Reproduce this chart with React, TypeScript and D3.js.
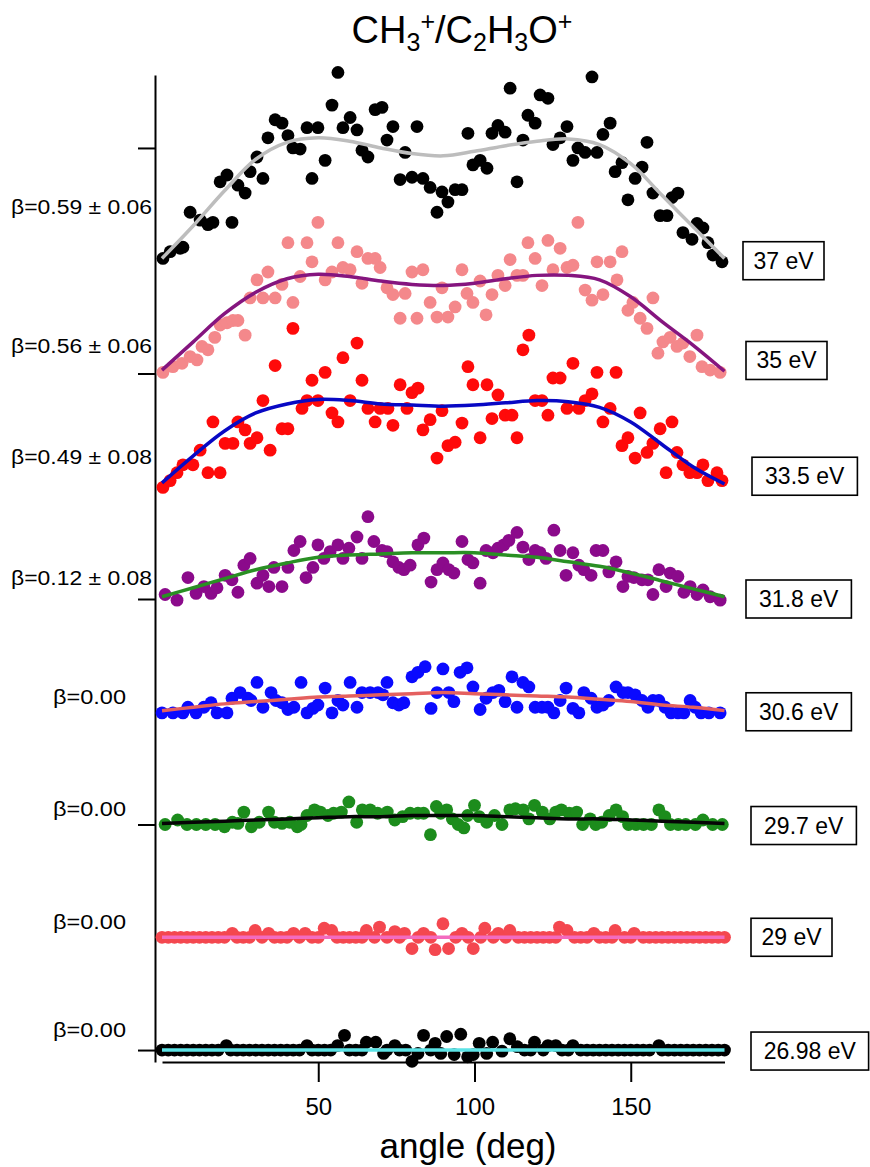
import React, { useEffect, useRef } from "react";
import * as d3 from "d3";

type Pt = [number, number];

// series order: top (37 eV) to bottom (26.98 eV)
const energies = ["37 eV", "35 eV", "33.5 eV", "31.8 eV", "30.6 eV", "29.7 eV", "29 eV", "26.98 eV"];
const betaLabels = ["β=0.59 ± 0.06", "β=0.56 ± 0.06", "β=0.49 ± 0.08", "β=0.12 ± 0.08", "β=0.00", "β=0.00", "β=0.00", "β=0.00"];
const offsets = [7, 6, 5, 4, 3, 2, 1, 0];
const dotColors = ["#000000", "#f4888b", "#ff0a0a", "#8b0a8b", "#0a0aff", "#1c8c1c", "#f4474f", "#000000"];
const fitColors = ["#bdbdbd", "#85157f", "#0808c4", "#2a8f24", "#e4605f", "#050505", "#f36bbf", "#5ce3e6"];

const xTicks = [50, 100, 150];
const yTicks = [0, 2, 4, 6, 8];

// fitted curves, sampled every 10 deg
const fitAngles = [0, 10, 20, 30, 40, 50, 60, 70, 80, 90, 100, 110, 120, 130, 140, 150, 160, 170, 180];
const fit37 = [0.02, 0.31, 0.62, 0.9, 1.05, 1.09, 1.06, 1.0, 0.95, 0.93, 0.97, 1.02, 1.06, 1.08, 1.03, 0.86, 0.58, 0.3, 0.02];
const fit35 = [0.03, 0.28, 0.53, 0.72, 0.84, 0.88, 0.86, 0.82, 0.79, 0.78, 0.8, 0.84, 0.87, 0.87, 0.83, 0.68, 0.46, 0.25, 0.02];
const fit33 = [0.03, 0.27, 0.49, 0.65, 0.73, 0.77, 0.76, 0.73, 0.72, 0.71, 0.72, 0.74, 0.76, 0.75, 0.7, 0.57, 0.37, 0.17, 0.02];
const fit31 = [0.02, 0.1, 0.18, 0.26, 0.32, 0.37, 0.39, 0.4, 0.41, 0.41, 0.41, 0.39, 0.37, 0.33, 0.29, 0.23, 0.16, 0.09, 0.02];
const fit30 = [0.01, 0.04, 0.07, 0.09, 0.11, 0.13, 0.14, 0.15, 0.16, 0.17, 0.16, 0.15, 0.14, 0.13, 0.11, 0.09, 0.06, 0.04, 0.01];
const fit29_7 = [0.01, 0.02, 0.03, 0.04, 0.05, 0.06, 0.07, 0.07, 0.08, 0.08, 0.08, 0.07, 0.06, 0.05, 0.05, 0.04, 0.03, 0.02, 0.01];
const fit29 = [0, 0, 0, 0, 0, 0, 0, 0, 0, 0, 0, 0, 0, 0, 0, 0, 0, 0, 0];
const fit27 = [0, 0, 0, 0, 0, 0, 0, 0, 0, 0, 0, 0, 0, 0, 0, 0, 0, 0, 0];

// measured points [angle, intensity above baseline]
const pts37: Pt[] = [[0.3,0.02],[2.6,0.08],[5.8,0.11],[6.7,0.12],[9,0.43],[12.2,0.36],[14.7,0.32],[16.3,0.34],[18.6,0.7],[20.8,0.76],[22.4,0.34],[24.3,0.67],[26.6,0.6],[28.2,0.79],[30.4,0.92],[32.3,0.73],[33.9,1.09],[36.2,1.25],[38.4,1.22],[40.3,1.11],[41.9,1.0],[44.2,0.99],[46.4,1.18],[48,0.73],[49.9,1.18],[52.2,0.89],[54.4,1.38],[56.3,1.67],[57.9,1.18],[60.2,1.27],[62.4,1.16],[64,0.98],[65.9,0.92],[68.2,1.34],[70.4,1.36],[72,1.07],[73.9,1.19],[76.2,0.72],[77.8,0.96],[80,0.74],[81.6,1.19],[83.5,0.73],[85.8,0.65],[88,0.43],[89.6,0.61],[91.5,0.52],[93.8,0.63],[96,0.63],[97.9,1.13],[99.5,0.85],[101.8,0.89],[104,0.82],[105.6,1.13],[107.5,1.2],[109.8,1.14],[111.4,1.53],[113.6,0.7],[115.5,1.07],[117.1,1.29],[119.4,1.22],[121,1.47],[123.5,1.44],[125.1,1.03],[127.4,1.09],[129.6,1.19],[131.5,0.89],[133.1,1.0],[135.4,0.96],[137.6,1.63],[139.2,0.96],[141.1,1.12],[143.4,1.22],[145,0.79],[147.2,0.87],[149.1,0.54],[151.4,0.73],[153.6,0.83],[155.2,1.05],[157.1,0.6],[159.4,0.4],[161.6,0.4],[163.2,0.56],[165.1,0.6],[166.7,0.25],[169.6,0.19],[171.2,0.33],[173.1,0.29],[174.7,0.16],[176.3,0.05],[179.2,-0.01]];

const pts35: Pt[] = [[0.3,0.01],[3.5,0.06],[6.4,0.09],[9,0.15],[11.2,0.12],[12.8,0.24],[14.7,0.21],[16.9,0.32],[18.6,0.43],[20.8,0.45],[22.7,0.47],[24.3,0.47],[26.6,0.34],[28.2,0.67],[30.4,0.83],[32.3,0.67],[33.9,0.9],[36.2,0.67],[38.4,0.79],[40.3,1.16],[41.9,0.63],[44.2,0.86],[46.4,1.16],[48,0.99],[49.9,1.34],[52.2,0.83],[54.4,0.9],[56.3,1.16],[57.9,0.94],[60.2,0.92],[62.4,1.08],[64,0.8],[65.9,1.02],[68.2,1.02],[69.8,0.94],[72,0.76],[73.9,0.7],[76.2,0.49],[77.8,0.71],[80,0.9],[81.6,0.49],[83.5,0.92],[85.8,0.63],[88,0.5],[89.6,0.76],[91.5,0.5],[93.8,0.59],[96,0.92],[97.6,0.71],[99.5,0.63],[101.8,0.82],[103.7,0.52],[105.6,0.7],[107.5,0.87],[109.8,0.78],[111.4,1.01],[113.6,0.87],[115.5,0.87],[117.1,1.16],[119.4,1.02],[121.6,0.78],[123.5,1.18],[125.1,0.92],[127.4,1.11],[129.6,0.94],[131.5,0.96],[133.1,1.34],[135.4,0.74],[137.6,0.65],[139.2,0.99],[141.1,0.7],[143.4,0.99],[145.6,0.83],[147.2,1.08],[149.1,0.56],[150.7,0.63],[153,0.49],[155.2,0.4],[157.1,0.67],[158.7,0.18],[160.3,0.28],[162.6,0.32],[164.8,0.24],[166.7,0.27],[168.9,0.15],[171.2,0.34],[172.8,0.06],[175.4,0.03],[178.6,0.01]];

const pts33: Pt[] = [[0.3,-0.01],[2.6,0.05],[4.8,0.12],[6.7,0.19],[9.9,0.19],[12.2,0.32],[14.7,0.12],[16.3,0.57],[18.6,0.12],[20.2,0.38],[22.7,0.38],[24.3,0.57],[26.6,0.5],[28.2,0.38],[30.4,0.43],[32.3,0.76],[34.6,0.32],[36.2,1.07],[38.4,0.51],[40.3,0.51],[41.9,1.4],[44.8,0.69],[46.4,0.76],[48,0.94],[49.9,0.76],[52.2,1.01],[54.4,0.65],[56.3,0.57],[57.9,1.14],[60.2,0.76],[62.4,1.27],[64,0.94],[65.9,0.69],[68.2,0.57],[69.8,0.69],[72.3,0.69],[73.9,0.54],[76.2,0.9],[78.4,0.69],[80,0.83],[81.9,0.87],[83.5,0.5],[85.8,0.59],[88,0.25],[89.6,0.67],[91.5,0.36],[93.8,0.39],[96,0.56],[97.9,1.06],[99.5,0.9],[101.8,0.43],[104,0.9],[105.6,0.6],[107.5,0.81],[109.8,0.63],[112,0.63],[113.6,0.43],[115.5,1.21],[117.4,1.34],[119.4,0.76],[121.6,0.76],[123.5,0.63],[125.1,0.96],[127.4,0.96],[129.6,0.69],[131.5,1.09],[133.4,0.69],[135.4,0.76],[137.6,0.82],[139.2,1.01],[141.1,0.57],[143.4,0.69],[145.3,1.01],[147.2,0.36],[149.1,0.43],[151.4,0.25],[153,0.65],[155.2,0.3],[157.1,0.38],[159.4,0.51],[161.3,0.12],[163.2,0.57],[164.8,0.3],[166.7,0.19],[168.9,0.12],[171.2,0.12],[173.1,0.19],[174.7,0.05],[177.6,0.12],[179.2,0.05]];

const pts31: Pt[] = [[1,0.04],[4.8,-0.01],[8.3,0.19],[10.9,0.05],[13.4,0.11],[15.7,0.05],[17.6,0.1],[20.2,0.21],[22.4,0.17],[24.3,0.06],[26.2,0.3],[28.2,0.36],[30.4,0.14],[32.3,0.21],[34.2,0.11],[35.8,0.28],[38.4,0.11],[40.3,0.28],[42.2,0.43],[44.2,0.51],[46.1,0.19],[48.3,0.28],[49.9,0.48],[51.8,0.36],[53.8,0.42],[56.3,0.48],[57.9,0.36],[59.8,0.45],[62.4,0.55],[64,0.36],[65.9,0.73],[67.8,0.51],[70.4,0.43],[72,0.42],[73.9,0.33],[75.8,0.28],[77.4,0.26],[79.4,0.3],[81.9,0.48],[83.8,0.54],[86.1,0.15],[88,0.26],[89.9,0.32],[91.8,0.26],[93.4,0.23],[96,0.51],[97.9,0.35],[99.5,0.32],[101.8,0.14],[103.7,0.43],[105.9,0.41],[107.5,0.45],[109.4,0.48],[111,0.52],[113.6,0.59],[115.5,0.46],[117.4,0.35],[119.4,0.43],[121,0.41],[122.9,0.36],[125.4,0.61],[127.4,0.43],[129.3,0.21],[131.5,0.41],[133.4,0.3],[135,0.26],[137.3,0.21],[138.9,0.43],[141.1,0.43],[143,0.24],[145.3,0.33],[147.5,0.11],[149.1,0.2],[151,0.19],[153.6,0.17],[155.5,0.17],[157.1,0.04],[159,0.26],[161.3,0.11],[162.6,0.23],[165.1,0.2],[167,0.06],[169,0.11],[171.2,0.04],[173.1,0.08],[175.4,0.02],[178.6,-0.01]];

const pts30: Pt[] = [[0,-0.01],[3.5,-0.01],[6.7,-0.01],[8.3,0.04],[10.9,-0.01],[13.4,0.04],[15.7,0.08],[17.6,-0.01],[20.8,-0.01],[22.4,0.12],[25,0.17],[27.5,0.12],[28.5,0.1],[30.4,0.26],[32.3,0.04],[34.9,0.17],[36.5,0.1],[38.4,0.08],[40.3,0.02],[42.2,0.04],[44.5,0.26],[46.4,-0.01],[48.3,0.03],[49.9,0.06],[52.2,0.21],[54.4,-0.01],[56.3,0.1],[57.9,0.06],[60.2,0.26],[62.4,0.04],[64,0.17],[66.6,0.17],[69.1,0.17],[70.7,0.15],[72,0.26],[73.9,0.08],[75.8,0.06],[77.4,0.08],[80,0.31],[81.9,0.35],[84.2,0.4],[86.1,0.03],[88,0.17],[89.9,0.38],[91.8,0.17],[93.4,0.09],[95.4,0.35],[97.6,0.39],[99.5,0.22],[101.8,0.02],[103.7,0.12],[105.9,0.17],[107.8,0.19],[109.8,0.09],[112,0.31],[113.6,0.04],[115.5,0.26],[117.4,0.22],[119.4,0.04],[121.6,0.04],[123.5,0.04],[125.4,-0.01],[127.4,0.1],[129.3,0.21],[131.5,0.03],[133.4,-0.01],[135,0.17],[137.3,0.12],[139.2,0.04],[141.1,0.06],[143,0.1],[145.3,0.22],[147.5,0.17],[149.1,0.17],[151.4,0.15],[153.6,0.1],[155.5,0.04],[157.1,0.1],[159,0.1],[161,0.04],[162.9,-0.01],[165.1,-0.01],[167,-0.01],[169,0.1],[170.6,0.04],[172.5,-0.01],[175,-0.01],[178.6,-0.01]];

const pts29_7: Pt[] = [[1,0],[5,0.04],[8,0],[11,0],[14,0],[17,0],[20,-0.02],[22.5,0.02],[24.3,0.01],[26.2,0.11],[28.6,-0.02],[31.1,0.02],[34.1,0.11],[36,0.02],[38.4,0.01],[40.9,0.02],[43.3,-0.02],[44.5,0],[46.4,0.08],[48.8,0.13],[50.7,0.11],[53.1,0.08],[54.9,0.1],[57.4,0.11],[59.8,0.2],[62.3,0.02],[64.1,0.13],[66.6,0.13],[69,0.1],[72.1,0.11],[74.5,0.04],[77,0.07],[79.4,0.1],[81.9,0.1],[83.7,0.1],[85.9,-0.09],[87.8,0.16],[89.2,0.1],[91.1,0.13],[92.9,0.05],[94.8,0],[96.6,-0.03],[97.8,0.08],[100,0.17],[101.5,0.07],[103.9,0.02],[106.4,0.08],[108.8,0],[111.3,0.13],[113.1,0.14],[115.6,0.13],[117.4,0.05],[119.2,0.17],[121.7,0.11],[124.1,0.05],[126,0.11],[127.8,0.13],[130.3,0.1],[132.7,0.11],[134.6,0],[137,0.05],[138.8,0],[140.7,0.02],[143.1,0.08],[145.3,0.13],[147.4,0.07],[149.3,0],[151.7,0],[154.1,0],[156.6,0],[159,0.13],[160.9,0.07],[162.7,0],[165.2,0],[167.6,0],[170.7,0],[173.1,0.04],[176.2,0],[179.3,0]];

const pts29: Pt[] = [[0,0],[2,0],[4,0],[6,0],[8,0],[10,0],[12,0],[14,0],[16,0],[18,0],[20,0],[22.5,0.035],[24,0],[26,0],[28,0],[29.8,0.06],[32,0],[34.1,0.035],[36,0],[38,0],[40,0],[42.1,0.035],[44,0],[45.8,0.035],[48,0],[50,0],[51.9,0.08],[54.3,0.06],[56,0],[58,0],[60,0],[62,0],[64,0],[65.4,0.06],[68,0],[69.6,0.09],[72,0],[74.5,0.05],[76,0],[77.6,0.035],[80,-0.1],[82,0],[83.7,0.035],[86,0],[87.4,-0.11],[89.9,0.12],[91.7,-0.1],[94,0],[96,0.035],[98,0],[99.6,-0.1],[102,0],[103.3,0.08],[106,0],[107.6,0.035],[110,0],[111.3,0.06],[114,0],[116,0],[118,0],[120,0],[122,0],[124,0],[126,0],[127.2,0.09],[129.6,0.06],[132,0],[134,0],[136,0],[138.2,0.035],[140,0],[142,0],[144,0],[145,0.06],[148,0],[150,0],[151.1,0.035],[154,0],[156,0],[158,0],[160,0],[162,0],[164,0],[166,0],[168,0],[170,0],[172,0],[174,0],[176,0],[178,0],[180,0]];

const pts27: Pt[] = [[0,0],[2,0],[4,0],[6,0],[8,0],[10,0],[12,0],[14,0],[16,0],[18,0],[20.6,0.04],[22,0],[24,0],[26,0],[28,0],[30,0],[32,0],[34,0],[36,0],[38,0],[40,0],[42,0],[44,0],[46.4,0.04],[48,0],[50,0],[52,0],[54,0],[56.2,0.04],[58.4,0.13],[60,0],[62,0],[64,0],[65.4,0.07],[68.4,0.07],[70.9,-0.03],[72,0],[74.5,0.04],[76,0],[78,0],[80,-0.1],[81.9,-0.03],[83.7,0.13],[86,0],[87.4,0.06],[89.2,-0.03],[91.1,0.12],[93.5,-0.04],[95.6,0.14],[97.8,-0.06],[99.6,-0.04],[101.5,0.06],[103.9,-0.03],[105.8,0.07],[108.8,-0.01],[111.3,0.1],[113.7,0.03],[116,0],[118,0],[119.2,0.07],[122,0],[123.5,0.04],[126,0.04],[128,0],[130,0],[131.5,0.04],[134,0],[136,0],[138,0],[140,0],[142,0],[144,0],[146,0],[148,0],[150,0],[152,0],[154,0],[156,0],[159,0.04],[160,0],[162,0],[164,0],[166,0],[168,0],[170,0],[172,0],[174,0],[176,0],[178,0],[180,0]];

const allPts = [pts37, pts35, pts33, pts31, pts30, pts29_7, pts29, pts27];
const allFits = [fit37, fit35, fit33, fit31, fit30, fit29_7, fit29, fit27];

// label placement (px)
const boxX = [743, 746, 752, 746, 746, 751, 751, 751];
const boxDy = [0, -13, -10, 0, 0, 1, 0, 1];
const betaDy = [-54, -27, -29, -21, -15, -16, -15, -20];

const FONT = "'Liberation Sans', Arial, Helvetica, sans-serif";

const App: React.FC = () => {
  const xAxisRef = useRef<SVGGElement>(null);
  const yAxisRef = useRef<SVGGElement>(null);

  const x = d3.scaleLinear().domain([0, 180]).range([162, 724.5]);
  const y = d3.scaleLinear().domain([-0.106, 8.647]).range([1062, 75]);

  useEffect(() => {
    if (xAxisRef.current) {
      const g = d3.select(xAxisRef.current);
      g.html("");
      g.call(d3.axisBottom(x).tickValues(xTicks).tickSize(20).tickSizeOuter(0).tickPadding(16));
      g.selectAll("path, line").attr("stroke", "#000").attr("stroke-width", 2);
      g.selectAll("text").attr("font-size", 24).attr("font-family", FONT).attr("fill", "#000");
    }
    if (yAxisRef.current) {
      const g = d3.select(yAxisRef.current);
      g.html("");
      g.call(d3.axisLeft(y).tickValues(yTicks).tickSize(17).tickSizeOuter(0).tickFormat(() => ""));
      g.selectAll("path, line").attr("stroke", "#000").attr("stroke-width", 2);
    }
  }, []);

  const line = (off: number) =>
    d3
      .line<number>()
      .x((_, i) => x(fitAngles[i]))
      .y((d) => y(off + d))
      .curve(d3.curveCatmullRom.alpha(0.5));

  return (
    <div style={{ position: "absolute", left: 0, top: 0 }}>
      <svg width={870} height={1167} style={{ display: "block", background: "#fff" }}>
        <text x={462} y={43} fontSize={38} fontFamily={FONT} textAnchor="middle">
          <tspan>CH</tspan>
          <tspan fontSize={25} dy={8}>3</tspan>
          <tspan fontSize={25} dy={-21}>+</tspan>
          <tspan dy={13}>/C</tspan>
          <tspan fontSize={25} dy={8}>2</tspan>
          <tspan dy={-8}>H</tspan>
          <tspan fontSize={25} dy={8}>3</tspan>
          <tspan dy={-8}>O</tspan>
          <tspan fontSize={25} dy={-13}>+</tspan>
        </text>

        <g ref={yAxisRef} transform="translate(155,0)" />
        <g ref={xAxisRef} transform="translate(0,1062)" />

        {allPts.map((pts, si) => (
          <g key={energies[si]}>
            {pts.map((p, i) => (
              <circle key={i} cx={x(p[0])} cy={y(offsets[si] + p[1])} r={6.4} fill={dotColors[si]} />
            ))}
            <path
              d={line(offsets[si])(allFits[si]) ?? ""}
              fill="none"
              stroke={fitColors[si]}
              strokeWidth={3.5}
            />
          </g>
        ))}

        {energies.map((e, si) => {
          const cy = y(offsets[si]) + boxDy[si];
          const w = e.length * 12.2 + 20;
          return (
            <g key={"lab" + e}>
              <rect x={boxX[si]} y={cy - 19} width={w} height={38} fill="#fff" stroke="#000" strokeWidth={1.6} />
              <text x={boxX[si] + w / 2} y={cy + 8} fontSize={23} fontFamily={FONT} textAnchor="middle">
                {e}
              </text>
            </g>
          );
        })}

        {betaLabels.map((b, si) => (
          <text
            key={"b" + si}
            x={si < 4 ? 152 : 126}
            y={y(offsets[si]) + betaDy[si] + 7}
            fontSize={20}
            fontFamily={FONT}
            textAnchor="end"
            textLength={si < 4 ? 141 : 73}
            lengthAdjust="spacingAndGlyphs"
          >
            {b}
          </text>
        ))}

        <text x={468} y={1158} fontSize={35} fontFamily={FONT} textAnchor="middle">
          angle (deg)
        </text>
      </svg>
    </div>
  );
};

export default App;
